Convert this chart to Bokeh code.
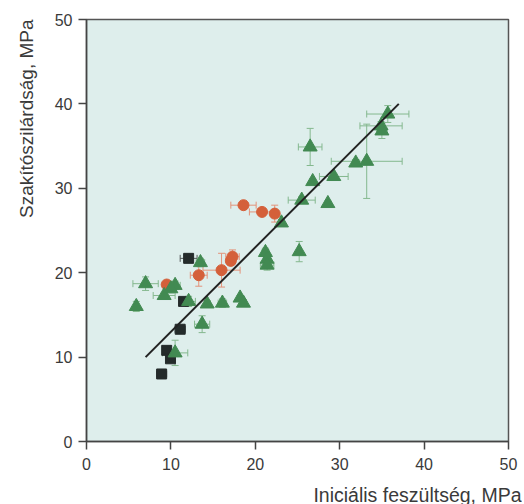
import numpy as np
from bokeh.plotting import figure
from bokeh.models import ColumnDataSource, Whisker, TeeHead, Title, FixedTicker
from bokeh.embed import file_html
from bokeh.resources import INLINE

# Green triangles: x, y, x error, y error
tri_x = [7.0, 5.9, 9.2, 10.5, 10.0, 13.5, 12.1, 14.3, 16.1, 18.2, 18.6, 13.7, 10.5,
         21.2, 21.4, 21.4, 25.2, 23.1, 25.5, 28.6, 26.5, 26.8, 29.3, 31.9, 33.2, 35.7, 34.9, 35.0]
tri_y = [18.7, 16.0, 17.3, 18.5, 18.1, 21.2, 16.6, 16.3, 16.4, 17.0, 16.4, 13.9, 10.5,
         22.4, 21.6, 20.9, 22.5, 25.9, 28.6, 28.2, 34.9, 30.8, 31.4, 33.0, 33.2, 38.8, 37.4, 36.8]
tri_xe = [1.5, 0.3, 1.3, 0.6, 0.5, 0.5, 0.8, 0.3, 0.5, 0.3, 0.3, 0.9, 1.5,
          0.4, 0.4, 0.8, 0.2, 0.3, 1.6, 0.2, 1.4, 0.3, 1.7, 0.4, 4.2, 2.5, 2.5, 0.6]
tri_ye = [0.8, 0.6, 0.3, 0.5, 0.5, 0.5, 0.6, 0.4, 0.5, 0.3, 0.4, 1.0, 1.5,
          0.5, 0.5, 0.6, 1.2, 0.4, 0.4, 0.3, 2.2, 0.3, 0.3, 0.4, 4.4, 1.0, 0.5, 0.9]

# Orange circles
cir_x = [9.5, 13.3, 16.0, 17.1, 17.3, 18.6, 20.8, 22.3]
cir_y = [18.6, 19.7, 20.3, 21.4, 21.9, 28.0, 27.2, 27.0]
cir_xe = [0.3, 1.0, 2.2, 0.5, 0.8, 1.5, 1.5, 0.4]
cir_ye = [0.3, 1.3, 2.0, 0.5, 0.8, 0.5, 0.4, 1.0]

# Black squares
sq_x = [12.1, 11.5, 11.1, 9.5, 9.95, 8.9]
sq_y = [21.7, 16.6, 13.3, 10.8, 9.8, 8.0]
sq_xe = [1.0, 0.4, 0.6, 0.4, 0.4, 0.6]
sq_ye = [0.3, 0.3, 0.2, 0.2, 0.2, 0.2]

# Fit line
line_x = [7, 37]
line_y = [10, 40]

ticks = [0, 10, 20, 30, 40, 50]

p = figure(frame_width=422, frame_height=422, x_range=(0, 50), y_range=(0, 50),
           output_backend="svg", toolbar_location=None,
           min_border_left=86, min_border_right=14, min_border_top=19, min_border_bottom=63,
           background_fill_color="#deeeec", border_fill_color="white")
p.outline_line_color = "#555555"
p.outline_line_width = 1.5
p.grid.visible = False

for ax in (p.xaxis, p.yaxis):
    ax.ticker = FixedTicker(ticks=ticks)
    ax.major_tick_in = 0
    ax.major_tick_out = 8
    ax.minor_tick_line_color = None
    ax.major_tick_line_color = "#444444"
    ax.major_tick_line_width = 1.5
    ax.axis_line_color = "#444444"
    ax.axis_line_width = 1.5
    ax.major_label_text_font = "Liberation Sans"
    ax.major_label_text_font_size = "16px"
    ax.major_label_text_color = "#3a3a3a"
p.xaxis.major_label_standoff = 8
p.yaxis.major_label_standoff = 6


def add_series(xs, ys, xe, ye, err_color):
    src = ColumnDataSource(dict(
        x=np.array(xs), y=np.array(ys),
        xl=np.array(xs) - np.array(xe), xu=np.array(xs) + np.array(xe),
        yl=np.array(ys) - np.array(ye), yu=np.array(ys) + np.array(ye)))
    p.add_layout(Whisker(base="y", lower="xl", upper="xu", dimension="width", source=src,
                         line_color=err_color, line_width=1,
                         lower_head=TeeHead(size=7, line_color=err_color, line_width=1),
                         upper_head=TeeHead(size=7, line_color=err_color, line_width=1),
                         level="underlay"))
    p.add_layout(Whisker(base="x", lower="yl", upper="yu", dimension="height", source=src,
                         line_color=err_color, line_width=1,
                         lower_head=TeeHead(size=7, line_color=err_color, line_width=1),
                         upper_head=TeeHead(size=7, line_color=err_color, line_width=1),
                         level="underlay"))
    return src


sq_src = add_series(sq_x, sq_y, sq_xe, sq_ye, "#555a5a")
cir_src = add_series(cir_x, cir_y, cir_xe, cir_ye, "#e3937a")
tri_src = add_series(tri_x, tri_y, tri_xe, tri_ye, "#84b88e")

p.scatter("x", "y", source=sq_src, marker="square", size=10, fill_color="#242b2b", line_color="#242b2b")
p.scatter("x", "y", source=cir_src, marker="circle", size=11, fill_color="#d4603a", line_color="#d4603a")
p.scatter("x", "y", source=tri_src, marker="triangle", size=14, fill_color="#428a52", line_color="#428a52")

p.line(line_x, line_y, line_color="#222222", line_width=2)

p.add_layout(Title(text="Iniciális feszültség, MPa", align="right", offset=-13, standoff=18,
                   text_font="Liberation Sans", text_font_size="19.5px", text_font_style="normal",
                   text_color="#3a3a3a"), "below")
p.add_layout(Title(text="Szakítószilárdság, MPa", align="right", offset=0, standoff=26,
                   vertical_align="top",
                   text_font="Liberation Sans", text_font_size="19px", text_font_style="normal",
                   text_color="#3a3a3a"), "left")

open("out.html", "w").write(file_html(p, INLINE))
